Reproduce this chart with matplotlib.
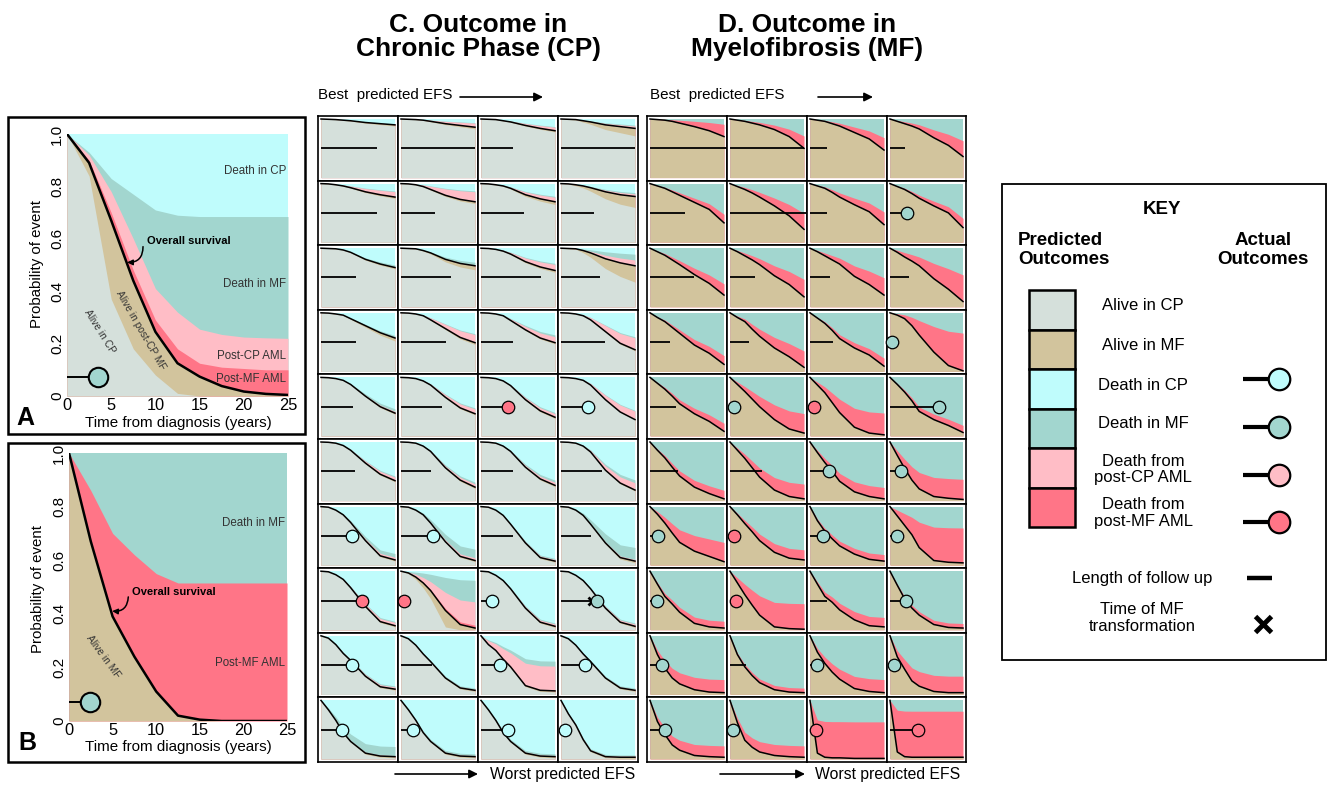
import numpy as np
import matplotlib
matplotlib.use("Agg")
import matplotlib.pyplot as plt
from matplotlib import font_manager as fm
from matplotlib.patches import Rectangle

# ---------------- data ----------------
TIME_AB = [0, 2.5, 5, 7.5, 10, 12.5, 15, 17.5, 20, 22.5, 25]
A_ALIVE_CP = [1.0, 0.84, 0.37, 0.18, 0.08, 0.01, 0, 0, 0, 0, 0]
A_OS = [1.0, 0.89, 0.67, 0.44, 0.245, 0.125, 0.074, 0.038, 0.017, 0.008, 0.004]
A_POSTMF_AML_TOP = [1.0, 0.90, 0.70, 0.48, 0.29, 0.18, 0.125, 0.11, 0.105, 0.10, 0.10]
A_POSTCP_AML_TOP = [1.0, 0.92, 0.78, 0.60, 0.41, 0.32, 0.255, 0.235, 0.225, 0.222, 0.22]
A_DEATH_MF_TOP = [1.0, 0.93, 0.83, 0.77, 0.71, 0.69, 0.685, 0.685, 0.685, 0.685, 0.685]
A_ACTUAL = (3.5, 0.073)          # follow-up (years), marker height
B_OS = [1.0, 0.67, 0.39, 0.24, 0.11, 0.02, 0.005, 0, 0, 0, 0]
B_POSTMF_AML_TOP = [1.0, 0.86, 0.70, 0.62, 0.55, 0.515, 0.515, 0.515, 0.515, 0.515, 0.515]
B_ACTUAL = (2.4, 0.07)

TIME_MINI = [0, 2.5, 5, 7.5, 10, 15, 20, 25]

C_OS = [
    [[1, .995, .99, .98, .97, .94, .92, .90], [1, .995, .99, .98, .96, .92, .89, .86],
     [1, .995, .99, .97, .95, .89, .84, .80], [1, .995, .99, .97, .95, .90, .87, .84]],
    [[1, .995, .98, .96, .93, .86, .81, .77], [1, .995, .98, .95, .90, .80, .73, .69],
     [1, .995, .98, .96, .92, .81, .74, .69], [1, .995, .98, .96, .93, .86, .81, .78]],
    [[1, .995, .99, .97, .93, .81, .73, .67], [1, .995, .99, .96, .92, .81, .74, .70],
     [1, .995, .98, .95, .90, .77, .68, .62], [1, .995, .99, .96, .92, .82, .75, .70]],
    [[1, .995, .98, .96, .90, .78, .66, .57], [1, .995, .98, .95, .88, .73, .58, .49],
     [1, .995, .98, .95, .87, .71, .57, .49], [1, .995, .98, .95, .88, .68, .48, .37]],
    [[1, .995, .98, .95, .88, .68, .50, .39], [1, .995, .98, .94, .87, .66, .48, .38],
     [1, .995, .98, .94, .86, .62, .43, .32], [1, .995, .98, .95, .87, .62, .41, .28]],
    [[1, .995, .98, .94, .86, .64, .45, .34], [1, .995, .98, .93, .84, .56, .35, .23],
     [1, .995, .98, .93, .84, .57, .37, .26], [1, .995, .98, .93, .83, .52, .30, .18]],
    [[1, .99, .94, .86, .73, .42, .16, .09], [1, .99, .94, .86, .72, .40, .15, .08],
     [1, .99, .94, .85, .70, .38, .13, .07], [1, .99, .94, .85, .70, .38, .13, .07]],
    [[1, .99, .94, .86, .72, .40, .14, .07], [1, .97, .90, .80, .67, .33, .09, .03],
     [1, .99, .93, .84, .70, .37, .13, .06], [1, .99, .93, .84, .70, .37, .13, .06]],
    [[1, .96, .85, .70, .58, .31, .13, .09], [1, .95, .84, .69, .56, .28, .11, .07],
     [1, .85, .75, .60, .47, .15, .07, .06], [1, .95, .84, .69, .56, .28, .11, .07]],
    [[1, .84, .66, .45, .30, .10, .05, .04], [1, .84, .66, .45, .30, .10, .05, .04],
     [1, .84, .66, .45, .30, .10, .05, .04], [1, .77, .58, .33, .14, .04, .03, .03]],
]
# share of (1 - OS) taken by each outcome band
C_TAN_W = [[.2, .2, .1, .8], [.1, .1, .15, .85], [.07, .23, .08, .93], [.12, .06, .04, .03],
           [.03, .03, .03, 0], [.03, .03, .03, .02], [.02, .02, .02, .03], [.02, .42, .02, .02],
           [.02, .02, .02, .02], [.02, .02, .02, .02]]
C_RED_W = [[0, 0, 0, 0], [0, 0, 0, 0], [0, 0, 0, 0], [0, 0, 0, 0], [0, 0, 0, 0],
           [0, 0, 0, 0], [0, 0, 0, 0], [.01, .05, .01, .01], [0, 0, .01, 0], [0, 0, 0, 0]]
C_PINK_W = [[.1, .5, .3, .25], [.4, .55, .25, .2], [.03, .05, .27, .33], [.03, .27, .2, .32],
            [.05, .13, .09, .2], [.09, .07, .07, .15], [.05, .05, .03, .03], [.05, .41, .03, .03],
            [.04, .02, .44, .02], [.02, .02, .02, .02]]
C_TEAL_W = [[.05, .05, .05, .1], [.05, .05, .05, .1], [.1, .15, .05, .33], [.07, .03, .06, .03],
            [.07, .03, .03, .02], [.03, .04, .05, .06], [.07, .16, .02, .22], [.02, .38, .02, .02],
            [.02, .02, .09, .02], [.16, .03, .03, .02]]
C_FOLLOW = [[.76, 1.0, .43, 1.0], [.75, .46, .58, .44], [.47, .67, .81, .53], [.47, .61, .43, .59],
            [.43, .56, .36, .37], [.46, .41, .43, .55], [.42, .43, .43, .41], [.56, .04, .15, .49],
            [.42, .42, .25, .33], [.29, .16, .37, .06]]
C_EVENT = [['', '', '', ''], ['', '', '', ''], ['', '', '', ''], ['', '', '', ''],
           ['', '', 'mfaml', 'cp'], ['', '', '', ''], ['cp', 'cp', '', ''],
           ['mfaml', 'mfaml', 'cp', 'mf'], ['cp', '', 'cp', 'cp'], ['cp', 'cp', 'cp', 'cp']]
C_MF_TIME = {(7, 3): 0.42}

D_OS = [
    [[1, .99, .98, .96, .93, .87, .80, .70], [1, .98, .96, .93, .90, .82, .70, .50],
     [1, .98, .96, .92, .88, .77, .66, .47], [1, .96, .92, .88, .83, .68, .55, .36]],
    [[1, .96, .92, .86, .80, .68, .56, .33], [1, .95, .90, .84, .77, .62, .45, .22],
     [1, .96, .92, .85, .77, .64, .52, .30], [1, .95, .90, .83, .75, .62, .50, .25]],
    [[1, .94, .88, .80, .72, .55, .40, .20], [1, .94, .87, .80, .72, .53, .38, .17],
     [1, .94, .87, .80, .73, .52, .38, .20], [1, .93, .85, .78, .70, .48, .30, .09]],
    [[1, .92, .85, .75, .65, .45, .31, .12], [1, .92, .85, .72, .60, .40, .25, .07],
     [1, .91, .82, .70, .56, .40, .28, .09], [1, .96, .90, .78, .62, .33, .10, .01]],
    [[1, .90, .80, .68, .55, .38, .25, .08], [1, .88, .76, .63, .50, .28, .12, .05],
     [1, .87, .74, .57, .40, .15, .05, .02], [1, .88, .75, .60, .42, .28, .18, .06]],
    [[1, .86, .73, .57, .42, .23, .12, .03], [1, .86, .72, .56, .40, .18, .07, .03],
     [1, .82, .65, .50, .33, .15, .07, .03], [1, .77, .55, .35, .20, .07, .04, .02]],
    [[1, .87, .72, .55, .39, .24, .15, .06], [1, .86, .71, .57, .42, .22, .12, .09],
     [1, .76, .58, .45, .33, .19, .10, .07], [1, .84, .68, .52, .30, .08, .05, .04]],
    [[1, .78, .57, .44, .30, .11, .05, .03], [1, .80, .60, .42, .25, .05, .02, .01],
     [1, .78, .57, .47, .34, .17, .07, .05], [1, .76, .53, .37, .25, .09, .04, .03]],
    [[1, .68, .45, .28, .18, .08, .04, .03], [1, .68, .47, .32, .20, .08, .04, .03],
     [1, .72, .53, .38, .26, .10, .05, .03], [1, .64, .43, .23, .14, .05, .03, .03]],
    [[1, .64, .42, .24, .15, .06, .04, .03], [1, .62, .32, .20, .12, .06, .04, .03],
     [1, .10, .03, .02, .02, .01, .01, .01], [1, .12, .04, .03, .03, .03, .03, .03]],
]
D_RED_W = [[.7, .42, .4, .42], [.22, .35, .31, .21], [.24, .36, .37, .5], [.17, .3, .15, .65],
           [.15, .35, .38, .13], [.15, .26, .2, .35], [.35, .19, .12, .62], [.12, .44, .17, .08],
           [.23, .08, .23, .29], [.2, .2, .63, .81]]
D_FOLLOW = [[1.04, 1.0, .23, .21], [.47, 1.03, .23, .23], [.59, .34, .27, .26], [.27, .26, .31, .03],
            [.35, .05, .05, .67], [.38, .43, .25, .15], [.11, .05, .17, .09], [.09, .08, .23, .22],
            [.16, .22, .10, .05], [.20, .04, .08, .39]]
D_EVENT = [['', '', '', ''], ['', '', '', 'mf'], ['', '', '', ''], ['', '', '', 'mf'],
           ['', 'mf', 'mfaml', 'mf'], ['', '', 'mf', 'mf'], ['mf', 'mfaml', 'mf', 'mf'],
           ['mf', 'mfaml', '', 'mf'], ['mf', '', 'mf', 'mf'], ['mf', 'mf', 'mfaml', 'mfaml']]

KEY_LABELS = ['Alive in CP', 'Alive in MF', 'Death in CP', 'Death in MF',
              'Death from\npost-CP AML', 'Death from\npost-MF AML']

# ---------------- style ----------------
GRAY, TAN, CYAN, TEAL, PINK, RED = '#D5E0DB', '#D2C49D', '#BFFCFC', '#A2D6CF', '#FFBDC6', '#FF7587'
EVCOL = {'cp': CYAN, 'mf': TEAL, 'cpaml': PINK, 'mfaml': RED}
TXT = '#333333'

plt.rcParams['font.family'] = ['Liberation Sans', 'DejaVu Sans']
names = {f.name for f in fm.fontManager.ttflist}
NARROW = 'Liberation Sans Narrow' in names
NF = ['Liberation Sans Narrow', 'DejaVu Sans'] if NARROW else ['Liberation Sans', 'DejaVu Sans']
NS = 1.0 if NARROW else 0.84

W, H = 1333, 787
fig = plt.figure(figsize=(W / 100, H / 100), dpi=100)


def rect(x0, y0, x1, y1):
    return [x0 / W, 1 - y1 / H, (x1 - x0) / W, (y1 - y0) / H]


ov = fig.add_axes([0, 0, 1, 1])
ov.set_xlim(0, W)
ov.set_ylim(H, 0)
ov.axis('off')

# ---------------- panels A and B ----------------
tab = np.array(TIME_AB)


def big_axes(px):
    ax = fig.add_axes(rect(*px))
    ax.set_xlim(0, 25)
    ax.set_ylim(0, 1)
    for s in ax.spines.values():
        s.set_visible(False)
    ax.set_xticks([0, 5, 10, 15, 20, 25])
    ax.set_xticklabels(['0', '5', '10', '15', '20', '25'])
    ax.set_yticks([0, .2, .4, .6, .8, 1.0])
    ax.set_yticklabels(['0', '0.2', '0.4', '0.6', '0.8', '1.0'], rotation=90, va='center')
    ax.tick_params(axis='x', length=0, labelsize=11.8, pad=1.5)
    ax.tick_params(axis='y', length=0, labelsize=11, pad=2)
    return ax


axA = big_axes((67, 134, 288, 396))
axA.fill_between(tab, 0, 1, color=CYAN, lw=0)
axA.fill_between(tab, 0, A_DEATH_MF_TOP, color=TEAL, lw=0)
axA.fill_between(tab, 0, A_POSTCP_AML_TOP, color=PINK, lw=0)
axA.fill_between(tab, 0, A_POSTMF_AML_TOP, color=RED, lw=0)
axA.fill_between(tab, 0, A_OS, color=TAN, lw=0)
axA.fill_between(tab, 0, A_ALIVE_CP, color=GRAY, lw=0)
axA.plot(tab, A_OS, color='k', lw=1.8, zorder=4)
for v, s in [(0.859, 'Death in CP'), (0.427, 'Death in MF'), (0.153, 'Post-CP AML'), (0.065, 'Post-MF AML')]:
    axA.text(24.8, v, s, ha='right', va='center', fontsize=8.3, color=TXT)
axA.text(9.0, 0.59, 'Overall survival', fontsize=8, fontweight='bold', va='center')
axA.annotate('', xy=(6.8, 0.51), xytext=(8.6, 0.57),
             arrowprops=dict(arrowstyle='-|>', connectionstyle='arc3,rad=-0.5', lw=1.1,
                             color='k', mutation_scale=8, shrinkA=0, shrinkB=0))
axA.text(8.3, 0.25, 'Alive in post-CP MF', rotation=-60, ha='center', va='center',
         rotation_mode='anchor', fontsize=7.3, color=TXT)
axA.text(3.75, 0.245, 'Alive in CP', rotation=-58, ha='center', va='center',
         rotation_mode='anchor', fontsize=7.3, color=TXT)
axA.plot([0, A_ACTUAL[0]], [A_ACTUAL[1]] * 2, color='k', lw=1.4, zorder=5)
axA.plot(A_ACTUAL[0], A_ACTUAL[1], 'o', ms=14, mfc=TEAL, mec='k', mew=1.5, zorder=6, clip_on=False)

axB = big_axes((69, 453, 287, 721))
axB.fill_between(tab, 0, 1, color=TEAL, lw=0)
axB.fill_between(tab, 0, B_POSTMF_AML_TOP, color=RED, lw=0)
axB.fill_between(tab, 0, B_OS, color=TAN, lw=0)
axB.plot(tab, B_OS, color='k', lw=1.8, zorder=4)
axB.text(24.8, 0.74, 'Death in MF', ha='right', va='center', fontsize=8.3, color=TXT)
axB.text(24.8, 0.216, 'Post-MF AML', ha='right', va='center', fontsize=8.3, color=TXT)
axB.text(7.2, 0.48, 'Overall survival', fontsize=8, fontweight='bold', va='center')
axB.annotate('', xy=(4.95, 0.41), xytext=(6.8, 0.463),
             arrowprops=dict(arrowstyle='-|>', connectionstyle='arc3,rad=-0.5', lw=1.1,
                             color='k', mutation_scale=8, shrinkA=0, shrinkB=0))
axB.text(3.9, 0.24, 'Alive in MF', rotation=-54, ha='center', va='center',
         rotation_mode='anchor', fontsize=7.3, color=TXT)
axB.plot([0, B_ACTUAL[0]], [B_ACTUAL[1]] * 2, color='k', lw=1.4, zorder=5)
axB.plot(B_ACTUAL[0], B_ACTUAL[1], 'o', ms=14, mfc=TEAL, mec='k', mew=1.5, zorder=6, clip_on=False)

for (x0, y0, x1, y1) in [(8, 117, 305, 434), (8, 443, 305, 762)]:
    ov.add_patch(Rectangle((x0, y0), x1 - x0, y1 - y0, fill=False, ec='k', lw=1.8))
ov.text(178, 423, 'Time from diagnosis (years)', ha='center', va='center', fontsize=10.9)
ov.text(178, 747, 'Time from diagnosis (years)', ha='center', va='center', fontsize=10.9)
ov.text(37, 264, 'Probability of event', ha='center', va='center', rotation=90, fontsize=10.8)
ov.text(38, 589, 'Probability of event', ha='center', va='center', rotation=90, fontsize=10.8)
ov.text(25, 418, 'A', ha='center', va='center', fontsize=18, fontweight='bold')
ov.text(27, 743, 'B', ha='center', va='center', fontsize=18, fontweight='bold')

# ---------------- grids C and D ----------------
tm = np.array(TIME_MINI)
Y_TOP, Y_BOT = 116, 762
row_h = (Y_BOT - Y_TOP) / 10
C_X = [318, 398, 478, 558, 638]
D_X = [647, 727, 807, 887, 966]
M = 3.0


def cell_axes(x0, y0, x1, y1):
    ax = fig.add_axes(rect(x0, y0, x1, y1))
    mx = M * 25 / (x1 - x0 - 2 * M)
    my = M / (y1 - y0 - 2 * M)
    ax.set_xlim(-mx, 25 + mx)
    ax.set_ylim(-my, 1 + my)
    ax.set_xticks([])
    ax.set_yticks([])
    ax.set_facecolor('white')
    for s in ax.spines.values():
        s.set_linewidth(1.2)
        s.set_color('k')
    return ax


def follow(ax, frac, ev, xm=None):
    tf = frac * 25
    ax.plot([0, tf], [0.5, 0.5], color='k', lw=1.3, solid_capstyle='butt', zorder=5, clip_on=False)
    if xm is not None:
        ax.plot(xm * 25, 0.5, marker='x', ms=6, mew=2, color='k', zorder=6)
    if ev:
        ax.plot(tf, 0.5, 'o', ms=9, mfc=EVCOL[ev], mec='k', mew=0.9, zorder=7, clip_on=False)


for r in range(10):
    y0 = Y_TOP + r * row_h
    y1 = y0 + row_h
    for c in range(4):
        # panel C
        ax = cell_axes(C_X[c], y0, C_X[c + 1], y1)
        os_ = np.array(C_OS[r][c])
        d = 1 - os_
        rt = os_ + C_RED_W[r][c] * d
        pt = rt + C_PINK_W[r][c] * d
        tt = np.minimum(pt + C_TEAL_W[r][c] * d, 1)
        lo = os_ - np.minimum(os_, C_TAN_W[r][c] * d)
        ax.fill_between(tm, 0, 1, color=CYAN, lw=0)
        ax.fill_between(tm, 0, tt, color=TEAL, lw=0)
        ax.fill_between(tm, 0, pt, color=PINK, lw=0)
        ax.fill_between(tm, 0, rt, color=RED, lw=0)
        ax.fill_between(tm, 0, os_, color=TAN, lw=0)
        ax.fill_between(tm, 0, lo, color=GRAY, lw=0)
        ax.plot(tm, os_, color='k', lw=1.1, zorder=4)
        follow(ax, C_FOLLOW[r][c], C_EVENT[r][c], C_MF_TIME.get((r, c)))

        # panel D
        ax = cell_axes(D_X[c], y0, D_X[c + 1], y1)
        os_ = np.array(D_OS[r][c])
        d = 1 - os_
        rt = np.minimum(os_ + D_RED_W[r][c] * d, 1)
        ax.fill_between(tm, 0, 1, color=TEAL, lw=0)
        ax.fill_between(tm, 0, rt, color=RED, lw=0)
        ax.fill_between(tm, 0, os_, color=TAN, lw=0)
        ax.plot(tm, os_, color='k', lw=1.1, zorder=4)
        follow(ax, D_FOLLOW[r][c], D_EVENT[r][c])

# titles and arrows
ov.text(478, 37, 'C. Outcome in\nChronic Phase (CP)', ha='center', va='center', family=NF,
        fontsize=22.5 * NS, fontweight='bold', linespacing=1.05)
ov.text(807, 37, 'D. Outcome in\nMyelofibrosis (MF)', ha='center', va='center', family=NF,
        fontsize=22.5 * NS, fontweight='bold', linespacing=1.05)
AP = dict(arrowstyle='-|>', color='k', lw=1.2, mutation_scale=13, shrinkA=0, shrinkB=0)
for x_text, a0, a1 in [(318, 460, 543), (650, 818, 873)]:
    ov.text(x_text, 95, 'Best  predicted EFS', ha='left', va='center', family=NF, fontsize=13 * NS)
    ov.annotate('', xy=(a1, 97), xytext=(a0, 97), arrowprops=AP)
for x_text, a0, a1 in [(490, 395, 478), (815, 720, 805)]:
    ov.text(x_text, 775, 'Worst predicted EFS', ha='left', va='center', family=NF, fontsize=13.5 * NS)
    ov.annotate('', xy=(a1, 774), xytext=(a0, 774), arrowprops=AP)

# ---------------- key ----------------
ov.add_patch(Rectangle((1002, 184), 324, 476, fill=False, ec='k', lw=1.3))
ov.text(1162, 209, 'KEY', ha='center', va='center', fontsize=13.5, fontweight='bold')
ov.text(1018, 250, 'Predicted\nOutcomes', ha='left', va='center', fontsize=13.5,
        fontweight='bold', linespacing=1.2)
ov.text(1263, 250, 'Actual\nOutcomes', ha='center', va='center', fontsize=13.5,
        fontweight='bold', linespacing=1.2)
sw_cols = [GRAY, TAN, CYAN, TEAL, PINK, RED]
sw_top, sw_h = 290, 39.5
label_y = [306, 345, 385, 424, 469.5, 513]
for i, (col, lab) in enumerate(zip(sw_cols, KEY_LABELS)):
    ov.add_patch(Rectangle((1029, sw_top + i * sw_h), 46, sw_h, fc=col, ec='k', lw=1.8))
    ov.text(1143, label_y[i], lab, ha='center', va='center', fontsize=12, linespacing=1.15)
for y, col in zip([379, 427, 475, 522], [CYAN, TEAL, PINK, RED]):
    ov.plot([1243, 1270], [y, y], color='k', lw=3, solid_capstyle='butt')
    ov.plot(1279, y, 'o', ms=15.5, mfc=col, mec='k', mew=1.6)
ov.text(1142, 578, 'Length of follow up', ha='center', va='center', fontsize=12)
ov.plot([1247, 1272], [578, 578], color='k', lw=3.2, solid_capstyle='butt')
ov.text(1142, 618, 'Time of MF\ntransformation', ha='center', va='center', fontsize=12, linespacing=1.15)
ov.plot(1263, 624, marker='x', ms=11, mew=3.5, color='k')

fig.savefig('out.png', dpi=100)
